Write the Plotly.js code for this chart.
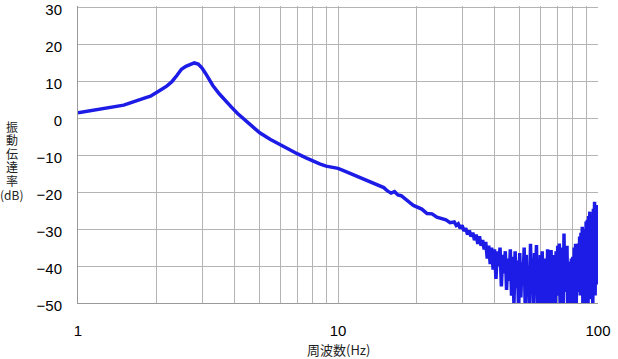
<!DOCTYPE html>
<html>
<head>
<meta charset="utf-8">
<script src="https://cdn.plot.ly/plotly-3.0.1.min.js"></script>
<style>html,body{margin:0;padding:0;background:#fff;}#chart{width:618px;height:359px;}</style>
</head>
<body>
<div id="chart"></div>
<script>
// Frequency (Hz)
const freq = [
  1.0, 1.1, 1.25, 1.4, 1.5, 1.6, 1.7, 1.8, 1.9, 2.0,
  2.1, 2.2, 2.3, 2.4, 2.5, 2.6, 2.7, 2.8, 2.9, 3.0,
  3.1, 3.2, 3.3, 3.5, 3.7, 3.9, 4.1, 4.3, 4.6, 5.0,
  5.5, 6.0, 6.5, 7.0, 7.5, 8.0, 8.5, 9.0, 9.5, 10,
  10.5, 11, 11.5, 12, 12.5, 13, 13.5, 14, 14.5, 15,
  15.5, 16, 16.5, 17, 17.5, 18, 18.5, 19, 19.5, 20,
  21, 22, 23, 24, 25, 26, 27,
  28.0, 28.5, 29.0, 29.5, 30.0, 30.5, 31.0, 31.5, 32.0, 32.5,
  33.0, 33.5, 34.0, 34.5, 35.0, 35.5,
  36.0, 36.5, 37.0, 37.5, 38.0, 38.5, 39.0, 39.5, 40.0, 40.5,
  41.0, 41.5, 42.0, 42.5, 43.0, 43.5, 44.0, 44.5, 45.0, 45.5,
  46.0, 46.5, 47.0, 47.5, 48.0, 48.5, 49.0, 49.5, 50.0, 50.5,
  51.0, 51.5, 52.0, 52.5, 53.0, 53.5, 54.0, 54.5, 55.0, 55.5,
  56.0, 56.5, 57.0, 57.5, 58.0, 58.5, 59.0, 59.5, 60.0, 60.5,
  61.0, 61.5, 62.0, 62.5, 63.0, 63.5, 64.0, 64.5, 65.0, 65.5,
  66.0, 66.5, 67.0, 67.5, 68.0, 68.5, 69.0, 69.5, 70.0, 70.5,
  71.0, 71.5, 72.0, 72.5, 73.0, 73.5, 74.0, 74.5, 75.0, 75.5,
  76.0, 76.5, 77.0, 77.5, 78.0, 78.5, 79.0, 79.5, 80.0, 80.5,
  81.0, 81.5, 82.0, 82.5, 83.0, 83.5, 84.0, 84.5, 85.0, 85.5,
  86.0, 86.5, 87.0, 87.5, 88.0, 88.5, 89.0, 89.5, 90.0, 90.5,
  91.0, 91.5, 92.0, 92.5, 93.0, 93.5, 94.0, 94.5, 95.0, 95.5,
  96.0, 96.5, 97.0, 97.5, 98.0, 98.5, 99.0, 99.5, 100.0
];
// Transmissibility (dB)
const transmissibility = [
  1.4, 1.9, 2.5, 3.0, 3.5, 4.2, 4.9, 5.4, 5.9, 7.0,
  7.8, 8.7, 9.9, 11.5, 13.2, 14.0, 14.5, 14.9, 14.6, 13.5,
  12.0, 10.2, 8.8, 6.5, 4.5, 2.9, 1.3, 0.0, -1.8, -4.0,
  -5.8, -7.3, -8.6, -9.7, -10.7, -11.7, -12.4, -13.0, -13.3, -13.6,
  -14.2, -14.8, -15.4, -16.0, -16.4, -16.9, -17.4, -17.9, -18.3, -18.8,
  -19.7, -20.3, -19.9, -20.8, -21.0, -21.6, -22.3, -23.0, -23.6, -24.0,
  -24.6, -25.8, -25.9, -26.8, -27.2, -27.5, -28.3,
  -28.1, -29.0, -28.6, -29.8, -29.0, -30.5, -29.8, -31.5, -30.4, -32.0,
  -31.0, -33.0, -31.5, -34.0, -32.0, -34.5,
  -33.0, -35.5, -33.5, -38.0, -34.5, -39.5, -35.0, -41.0, -35.5, -43.5,
  -36.0, -40.0, -35.0, -45.5, -37.0, -42.0, -36.0, -46.5, -38.0, -44.0,
  -35.5, -48.0, -37.5, -50.5, -36.0, -46.0, -38.5, -53.0, -36.5, -48.5,
  -39.0, -44.0, -35.0, -52.0, -37.0, -47.0, -40.0, -54.0, -34.0, -46.0,
  -38.0, -50.0, -36.5, -43.0, -34.3, -52.0, -39.0, -47.0, -37.0, -55.0,
  -36.0, -45.0, -40.0, -51.0, -38.0, -48.0, -35.5, -53.0, -39.5, -44.0,
  -35.7, -50.0, -37.0, -46.0, -41.0, -54.0, -36.0, -48.0, -34.5, -43.0,
  -33.9, -51.0, -38.0, -45.0, -35.0, -52.0, -31.2, -47.0, -36.0, -42.0,
  -34.5, -55.0, -38.8, -49.0, -40.0, -53.0, -38.0, -46.0, -37.5, -51.0,
  -35.0, -44.0, -34.0, -50.0, -36.0, -47.0, -33.9, -43.0, -32.0, -48.0,
  -31.0, -45.0, -29.4, -52.0, -33.0, -41.0, -30.0, -50.0, -28.0, -44.0,
  -27.5, -54.0, -26.5, -40.0, -25.3, -49.0, -30.0, -38.0, -27.0, -52.0,
  -24.5, -42.0, -22.6, -48.0, -25.0, -36.0, -23.5, -45.0, -30.0
];
// Axis ticks
const xTickVals = [1,2,3,4,5,6,7,8,9,10,20,30,40,50,60,70,80,90,100];
const xTickText = ['1','','','','','','','','','10','','','','','','','','','100'];
const yTickVals = [-50,-40,-30,-20,-10,0,10,20,30];
const xTitle = '周波数(Hz)';
const yTitleChars = ['振','動','伝','達','率'];
const yTitleUnit = '(dB)';

const tickFont = {family: '"Liberation Sans", Arial, sans-serif', size: 15, color: '#000'};
const jpFamily = '"Noto Sans CJK JP", sans-serif';

// plot area geometry (px) for placing the stacked vertical title
const plotTop = 6, plotH = 297;
const pxToPaperY = py => (plotTop + plotH - py) / plotH;
const annotations = [
  {text: xTitle, xref: 'paper', yref: 'paper', x: 0.5, y: pxToPaperY(349), xanchor: 'center', yanchor: 'middle',
   showarrow: false, font: {family: jpFamily, size: 13, color: '#222'}}
];
yTitleChars.forEach((ch, i) => {
  annotations.push({text: ch, xref: 'paper', yref: 'paper', x: -0.127, y: pxToPaperY(126 + i * 13.6),
    xanchor: 'center', yanchor: 'middle', showarrow: false, font: {family: jpFamily, size: 12, color: '#222'}});
});
annotations.push({text: yTitleUnit, xref: 'paper', yref: 'paper', x: -0.127, y: pxToPaperY(194),
  xanchor: 'center', yanchor: 'middle', showarrow: false, font: {family: jpFamily, size: 12, color: '#222'}});

Plotly.newPlot('chart', [{
  x: freq,
  y: transmissibility,
  type: 'scatter',
  mode: 'lines',
  line: {color: '#1c1ce6', width: 3.5},
  hoverinfo: 'skip'
}], {
  width: 618,
  height: 359,
  margin: {l: 78, r: 20, t: 6, b: 56},
  paper_bgcolor: '#fff',
  plot_bgcolor: '#fff',
  showlegend: false,
  xaxis: {
    type: 'log',
    range: [0, 2],
    tickmode: 'array',
    tickvals: xTickVals,
    ticktext: xTickText,
    showgrid: true,
    gridcolor: '#b4b4b4',
    gridwidth: 1,
    showline: true,
    linecolor: '#999',
    linewidth: 1,
    ticks: '',
    zeroline: false,
    tickfont: tickFont,
    ticklabelstandoff: 14,
    ticklabeloverflow: 'allow'
  },
  yaxis: {
    range: [-50, 30.3],
    tickmode: 'array',
    tickvals: yTickVals,
    showgrid: true,
    gridcolor: '#b4b4b4',
    gridwidth: 1,
    showline: true,
    linecolor: '#999',
    linewidth: 1,
    ticks: '',
    zeroline: false,
    tickfont: tickFont,
    ticklabelstandoff: 12,
    ticklabelshift: 3,
    ticklabeloverflow: 'allow'
  },
  annotations: annotations
}, {staticPlot: true, displayModeBar: false});
</script>
</body>
</html>
